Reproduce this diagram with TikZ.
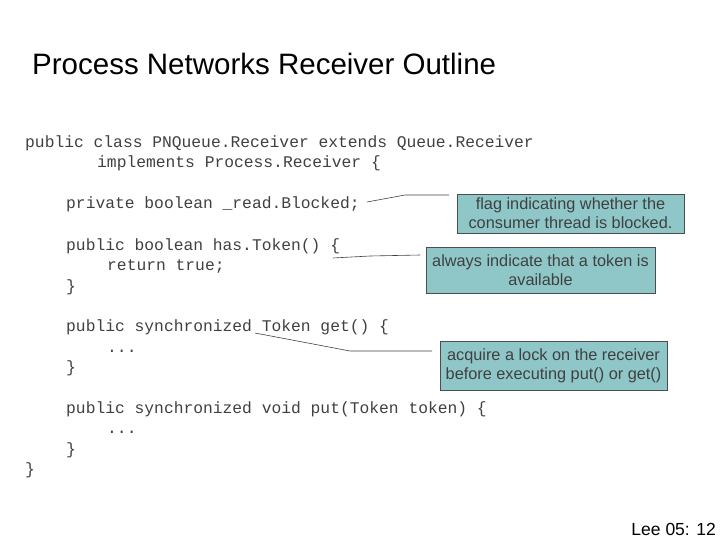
\documentclass[tikz,border=0pt]{standalone}
\usepackage{fontspec}
\setmainfont{Liberation Sans}
\setmonofont{Liberation Mono}
\usepackage{xcolor}
\definecolor{notefill}{RGB}{143,199,200}
\definecolor{codegray}{RGB}{64,64,64}
\begin{document}
\begin{tikzpicture}[x=1pt, y=-1pt,
                    codeline/.style={anchor=base west, inner sep=0pt, text=codegray, font=\fontsize{16.3}{18}\ttfamily},
                    notebox/.style={draw=black!70, fill=notefill, text=codegray, align=center, inner sep=0pt, font=\fontsize{16.3}{19}\selectfont},
                    leader/.style={draw=black!75, line width=0.6pt}]

  % BOUNDING BOX
  \useasboundingbox (0,0) rectangle (720,540);

  % TITLE
  \node[anchor=base west, inner sep=0pt, font=\fontsize{29.5}{32}\selectfont] (title) at (32,75) {Process Networks Receiver Outline};

  % CODE
  \node[codeline] (c1) at (25,148) {public class PNQueue.Receiver extends Queue.Receiver};
  \node[codeline] (c2) at (97,168) {implements Process.Receiver \{};
  \node[codeline] (c3) at (66,209) {private boolean \_read.Blocked;};
  \node[codeline] (c4) at (66,250) {public boolean has.Token() \{};
  \node[codeline] (c5) at (107,270) {return true;};
  \node[codeline] (c6) at (66,291) {\}};
  \node[codeline] (c7) at (66,331) {public synchronized Token get() \{};
  \node[codeline] (c8) at (107,352) {...};
  \node[codeline] (c9) at (66,372) {\}};
  \node[codeline] (c10) at (66,413) {public synchronized void put(Token token) \{};
  \node[codeline] (c11) at (107,433) {...};
  \node[codeline] (c12) at (66,454) {\}};
  \node[codeline] (c13) at (25,474) {\}};

  % NOTES
  \node[notebox, minimum width=227pt, minimum height=39pt] (n1) at (570.5,213.5) {flag indicating whether the\\consumer thread is blocked.};
  \node[notebox, minimum width=229pt, minimum height=46pt] (n2) at (540.5,270) {always indicate that a token is\\available};
  \node[notebox, minimum width=227pt, minimum height=49pt] (n3) at (553.5,365.5) {acquire a lock on the receiver\\before executing put() or get()};

  % LEADERS
  \coordinate (k1) at (405,195);
  \coordinate (k2) at (370,256);
  \coordinate (k3) at (350,351);
  \draw[leader] (367,202) -- (k1) -- (449,195);
  \draw[leader] (333,258) -- (k2) -- (420,255);
  \draw[leader] (255,333) -- (k3) -- (432,351);

  % FOOTER
  \node[anchor=base east, inner sep=0pt, font=\fontsize{17.5}{19}\selectfont] (footer) at (716,535) {Lee 05: 12};

\end{tikzpicture}
\end{document}
